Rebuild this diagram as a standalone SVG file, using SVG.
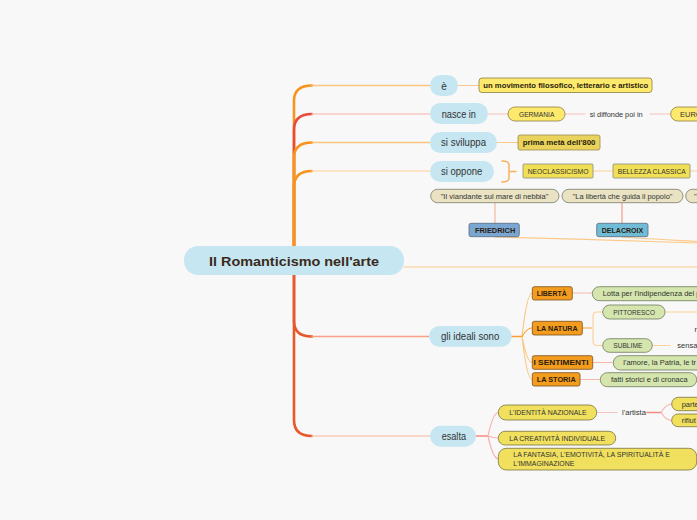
<svg xmlns="http://www.w3.org/2000/svg" width="697" height="520" viewBox="0 0 697 520">
<style>
text{font-family:"Liberation Sans",Arial,sans-serif;fill:#333}
.blue{fill:#c6e6f1}
.bt{font-size:10px;fill:#333;text-anchor:start}
.yl{fill:#fde96b;stroke:#8c7d45;stroke-width:0.8}
.yd{fill:#e9d35a;stroke:#9b8a55;stroke-width:0.8}
.ys{fill:#f1df55;stroke:#8a8a80;stroke-width:0.8}
.ye{fill:#f0e05e;stroke:#7a7440;stroke-width:0.8}
.bg{fill:#e9e3c3;stroke:#7a786a;stroke-width:0.8}
.or{fill:#f39c1e;stroke:#7a4f1a;stroke-width:0.8}
.gr{fill:#d4e6ad;stroke:#6e7a5a;stroke-width:0.8}
.st{font-size:7.5px;fill:#333}
.sb{font-size:7.5px;font-weight:bold;fill:#2a1d0f}
.c{fill:none;stroke-linecap:round}
</style>
<rect width="697" height="520" fill="#f8f8f8"/>
<g id="connectors">
  <path class="c" d="M294,246 V101 Q294,85.5 312,85.5" stroke="#f7941d" stroke-width="2.6"/>
  <path class="c" d="M312,85.5 H430" stroke="#fcc47c" stroke-width="1.4"/>
  <path class="c" d="M294,246 V130 Q294,114 312,114" stroke="#e84a3b" stroke-width="2.6"/>
  <path class="c" d="M312,114 H430" stroke="#f9c6c4" stroke-width="1.4"/>
  <path class="c" d="M294,246 V158 Q294,142.5 312,142.5" stroke="#f7941d" stroke-width="2.6"/>
  <path class="c" d="M312,142.5 H430" stroke="#fcc47c" stroke-width="1.4"/>
  <path class="c" d="M294,246 V187 Q294,171 312,171" stroke="#f7941d" stroke-width="2.6"/>
  <path class="c" d="M312,171 H430" stroke="#fddcb4" stroke-width="1.4"/>
  <path class="c" d="M404,267 H697" stroke="#fcc98a" stroke-width="1.2"/>
  <path class="c" d="M294,275 V321 Q294,336.5 312,336.5" stroke="#e8582a" stroke-width="2.6"/>
  <path class="c" d="M312,336.5 H429" stroke="#f7a085" stroke-width="1.4"/>
  <path class="c" d="M294,275 V420 Q294,436 312,436" stroke="#e8582a" stroke-width="2.6"/>
  <path class="c" d="M312,436 H430" stroke="#f8cbb8" stroke-width="1.4"/>
  <path class="c" d="M458,85.5 H479" stroke="#fcc98a" stroke-width="1.2"/>
  <path class="c" d="M488,114 H508 M565,114 H585 M650,114 H670" stroke="#f8c0c0" stroke-width="1.2"/>
  <path class="c" d="M497,142.5 H518" stroke="#fcc98a" stroke-width="1.2"/>
  <path class="c" d="M502,161 Q509,161 509,165 V178 Q509,182 502,182 M509,171.5 H516" stroke="#f9b060" stroke-width="1.5"/>
  <path class="c" d="M593,171 H613 M690,171 H697" stroke="#fcd29a" stroke-width="1.2"/>
  <path class="c" d="M495,203 V223" stroke="#f8b8a0" stroke-width="1.2"/>
  <path class="c" d="M622,203 V223" stroke="#f59a85" stroke-width="1.2"/>
  <path class="c" d="M495,237 C560,238.5 640,241 697,243" stroke="#fcc98a" stroke-width="1.2"/>
  <path class="c" d="M622,237 C650,239 680,240.5 697,241.5" stroke="#fcc98a" stroke-width="1.2"/>
  <path class="c" d="M511,336.5 H522" stroke="#f7a030" stroke-width="1.5"/>
  <path class="c" d="M522,336.5 Q527,293 532,293 M522,336.5 Q527,362.5 532,362.5 M522,336.5 Q527,379.5 532,379.5" stroke="#fdc684" stroke-width="1.2"/>
  <path class="c" d="M522,336.5 Q527,328 532,328" stroke="#f9a535" stroke-width="1.2"/>
  <path class="c" d="M572,293 H592" stroke="#f8b8b0" stroke-width="1.2"/>
  <path class="c" d="M582,328 H592" stroke="#f9a535" stroke-width="1.2"/>
  <path class="c" d="M603,312 H597 Q593,312 593,316 V341 Q593,345.5 597,345.5 H603" stroke="#fcd29a" stroke-width="1.2"/>
  <path class="c" d="M665,312 H697 M652,345.5 H670" stroke="#fcd29a" stroke-width="1.2"/>
  <path class="c" d="M593,362.5 H613 M580,379.5 H600" stroke="#f8b8a8" stroke-width="1.2"/>
  <path class="c" d="M476,436 H488" stroke="#f58a80" stroke-width="1.5"/>
  <path class="c" d="M488,436 Q493,412.5 498.5,412.5 M488,436 Q493,438 498.5,438 M488,436 Q493,459 498.5,459" stroke="#f7b2ae" stroke-width="1.2"/>
  <path class="c" d="M597,412.5 H617" stroke="#f8c0c0" stroke-width="1.2"/>
  <path class="c" d="M647,412.5 H661" stroke="#f58a80" stroke-width="1.5"/>
  <path class="c" d="M661,412.5 Q666,404 672,404 M661,412.5 Q666,420.5 672,420.5" stroke="#f7b2ae" stroke-width="1.2"/>
</g>
<g id="main"><rect x="184" y="246" width="220" height="29" rx="14" class="blue"/><text x="209" y="265.5" font-size="13" font-weight="bold" style="fill:#3a2a1a" textLength="170" lengthAdjust="spacingAndGlyphs">Il Romanticismo nell'arte</text></g>
<g id="n-e"><rect x="430" y="75" width="28" height="21" rx="10.5" class="blue"/><text x="444" y="89.5" class="bt" style="text-anchor:middle">è</text></g>
<g id="n-movimento"><rect x="479" y="78" width="173" height="14.5" rx="3" class="yl"/><text x="483.3" y="88.3" class="sb" textLength="165" lengthAdjust="spacingAndGlyphs">un movimento filosofico, letterario e artistico</text></g>
<g id="n-nasce"><rect x="430" y="103" width="58" height="21" rx="10.5" class="blue"/><text x="441.7" y="117.6" class="bt" textLength="34.3" lengthAdjust="spacingAndGlyphs">nasce in</text></g>
<g id="n-germania"><rect x="508" y="107" width="57" height="14" rx="7" class="yl"/><text x="519" y="116.8" class="st" textLength="35.3" lengthAdjust="spacingAndGlyphs">GERMANIA</text></g>
<g id="l-diffonde"><text x="589.7" y="116.8" class="st" textLength="53" lengthAdjust="spacingAndGlyphs">si diffonde poi in</text></g>
<g id="n-europa"><rect x="670.7" y="107" width="40" height="14" rx="7" class="yl"/><text x="680" y="116.8" class="st">EURO</text></g>
<g id="n-sviluppa"><rect x="430" y="132" width="67" height="21" rx="10.5" class="blue"/><text x="441" y="146" class="bt" textLength="45" lengthAdjust="spacingAndGlyphs">si sviluppa</text></g>
<g id="n-prima"><rect x="518" y="135" width="82" height="15" rx="2" class="yd"/><text x="522.7" y="145.3" class="sb" textLength="72.7" lengthAdjust="spacingAndGlyphs">prima metà dell'800</text></g>
<g id="n-oppone"><rect x="430" y="161" width="64" height="21" rx="10.5" class="blue"/><text x="441" y="175" class="bt" textLength="41.3" lengthAdjust="spacingAndGlyphs">si oppone</text></g>
<g id="n-neo"><rect x="523" y="164" width="70" height="14" rx="1" class="ys"/><text x="527.7" y="173.8" class="st" textLength="60.7" lengthAdjust="spacingAndGlyphs">NEOCLASSICISMO</text></g>
<g id="n-bellezza"><rect x="613" y="164" width="77" height="14" rx="1" class="ys"/><text x="617.7" y="173.8" class="st" textLength="68" lengthAdjust="spacingAndGlyphs">BELLEZZA CLASSICA</text></g>
<g id="n-viandante"><rect x="430.7" y="189.3" width="128.3" height="13.4" rx="6.7" class="bg"/><text x="440.7" y="198.8" class="st" textLength="107.7" lengthAdjust="spacingAndGlyphs">"Il viandante sul mare di nebbia"</text></g>
<g id="n-liberta-popolo"><rect x="562" y="189.3" width="121" height="13.4" rx="6.7" class="bg"/><text x="572.7" y="198.8" class="st" textLength="99.7" lengthAdjust="spacingAndGlyphs">"La libertà che guida il popolo"</text></g>
<g id="n-painting3"><rect x="685.7" y="189.3" width="40" height="13.4" rx="6.7" class="bg"/><text x="694" y="198.8" class="st">"</text></g>
<g id="n-friedrich"><rect x="469" y="223.3" width="50.3" height="13.4" rx="2" fill="#7aa6d2" stroke="#5a6a7a" stroke-width="0.8"/><text x="475" y="232.6" class="sb" textLength="40.3" lengthAdjust="spacingAndGlyphs">FRIEDRICH</text></g>
<g id="n-delacroix"><rect x="596.7" y="223.3" width="51.3" height="13.4" rx="2" fill="#70bcd6" stroke="#5a6a7a" stroke-width="0.8"/><text x="601.7" y="232.6" class="sb" textLength="41.6" lengthAdjust="spacingAndGlyphs">DELACROIX</text></g>
<g id="n-ideali"><rect x="429" y="326" width="82.7" height="20.7" rx="10.3" class="blue"/><text x="441" y="339.5" class="bt" textLength="58.3" lengthAdjust="spacingAndGlyphs">gli ideali sono</text></g>
<g id="n-liberta"><rect x="532.3" y="286.7" width="40" height="13.3" rx="2" class="or"/><text x="536.7" y="296" class="sb" textLength="30" lengthAdjust="spacingAndGlyphs">LIBERTÀ</text></g>
<g id="n-lotta"><rect x="592.3" y="286.7" width="130" height="14" rx="7" class="gr"/><text x="602.7" y="296" class="st">Lotta per l'indipendenza del p</text></g>
<g id="n-natura"><rect x="532.3" y="321.3" width="50" height="13.7" rx="2" class="or"/><text x="536.7" y="331" class="sb" textLength="41" lengthAdjust="spacingAndGlyphs">LA NATURA</text></g>
<g id="n-pittoresco"><rect x="602.7" y="305" width="62.3" height="14" rx="7" class="gr"/><text x="613.3" y="314.5" class="st" textLength="41.7" lengthAdjust="spacingAndGlyphs">PITTORESCO</text></g>
<g id="l-r"><text x="694.5" y="331.5" class="st">r</text></g>
<g id="n-sublime"><rect x="602.7" y="338.7" width="49.6" height="13.6" rx="6.8" class="gr"/><text x="613.3" y="348" class="st" textLength="29" lengthAdjust="spacingAndGlyphs">SUBLIME</text></g>
<g id="l-sensa"><text x="677.3" y="348" class="st">sensa</text></g>
<g id="n-sentimenti"><rect x="532.3" y="355.7" width="60.4" height="13.6" rx="2" class="or"/><text x="533.5" y="365" class="sb" textLength="55" lengthAdjust="spacingAndGlyphs">I SENTIMENTI</text></g>
<g id="n-amore"><rect x="613.3" y="355.7" width="110" height="14.3" rx="7" class="gr"/><text x="623.3" y="365.2" class="st">l'amore, la Patria, le tr</text></g>
<g id="n-storia"><rect x="532.3" y="372.7" width="47.7" height="13.3" rx="2" class="or"/><text x="536.7" y="382.3" class="sb" textLength="39" lengthAdjust="spacingAndGlyphs">LA STORIA</text></g>
<g id="n-fatti"><rect x="600.3" y="372.7" width="96.4" height="14" rx="7" class="gr"/><text x="611" y="382.3" class="st" textLength="76.7" lengthAdjust="spacingAndGlyphs">fatti storici e di cronaca</text></g>
<g id="n-esalta"><rect x="430" y="425.7" width="46" height="21" rx="10.5" class="blue"/><text x="441.7" y="439.5" class="bt" textLength="24.3" lengthAdjust="spacingAndGlyphs">esalta</text></g>
<g id="n-identita"><rect x="498.3" y="405" width="98.4" height="15" rx="7.5" class="ye"/><text x="509.3" y="415" class="st" textLength="77.4" lengthAdjust="spacingAndGlyphs">L'IDENTITÀ NAZIONALE</text></g>
<g id="l-artista"><text x="622" y="415" class="st" textLength="24" lengthAdjust="spacingAndGlyphs">l'artista</text></g>
<g id="n-parte"><rect x="671.7" y="397.3" width="50" height="13.4" rx="6.7" class="ye"/><text x="681.7" y="406.8" class="st">parte</text></g>
<g id="n-rifiuta"><rect x="671.7" y="414" width="50" height="12.7" rx="6.3" class="ye"/><text x="681.7" y="423.2" class="st">rifiut</text></g>
<g id="n-creativita"><rect x="498.3" y="431.3" width="117.4" height="13.7" rx="6.8" class="ye"/><text x="509.3" y="441" class="st" textLength="95.7" lengthAdjust="spacingAndGlyphs">LA CREATIVITÀ INDIVIDUALE</text></g>
<g id="n-fantasia"><rect x="498.3" y="448.3" width="198.4" height="21.7" rx="8" class="ye"/><text x="513.3" y="457.2" class="st" textLength="156.7" lengthAdjust="spacingAndGlyphs">LA FANTASIA, L'EMOTIVITÀ, LA SPIRITUALITÀ E</text><text x="513.3" y="466" class="st" textLength="61" lengthAdjust="spacingAndGlyphs">L'IMMAGINAZIONE</text></g>
</svg>
